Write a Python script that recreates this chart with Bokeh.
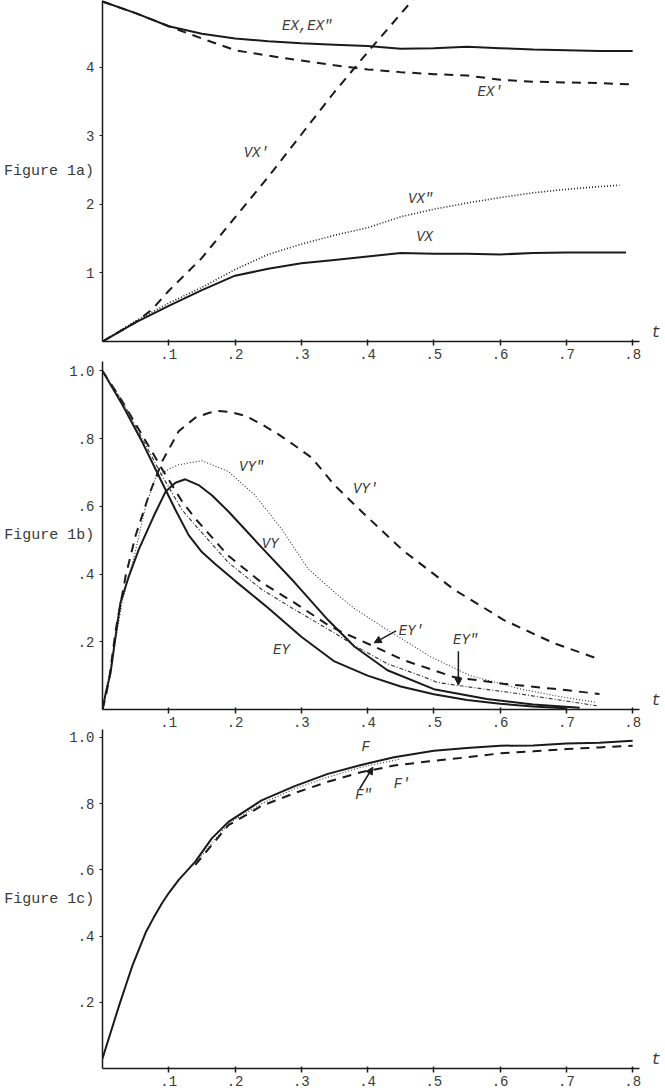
from bokeh.plotting import figure
from bokeh.layouts import column
from bokeh.models import Range1d, FixedTicker, Label, Arrow, NormalHead
from bokeh.embed import file_html
from bokeh.resources import INLINE

# ---------------- data ----------------
x_ticks = [0.1, 0.2, 0.3, 0.4, 0.5, 0.6, 0.7, 0.8]
x_tick_labels = [".1", ".2", ".3", ".4", ".5", ".6", ".7", ".8"]

ya_ticks = [1, 2, 3, 4]
ya_tick_labels = ["1", "2", "3", "4"]
yb_ticks = [0.2, 0.4, 0.6, 0.8, 1.0]
yb_tick_labels = [".2", ".4", ".6", ".8", "1.0"]

# Figure 1a
t_ex = [0, .05, .1, .15, .2, .25, .3, .35, .4, .45, .5, .55, .6, .65, .7, .75, .8]
ex = [4.96, 4.79, 4.60, 4.49, 4.42, 4.38, 4.35, 4.33, 4.31, 4.27, 4.28, 4.30, 4.28, 4.26, 4.25, 4.24, 4.24]
ex_p = [4.96, 4.79, 4.60, 4.42, 4.25, 4.17, 4.10, 4.03, 3.97, 3.93, 3.90, 3.88, 3.82, 3.79, 3.78, 3.77, 3.75]
t_vx_p = [0, .025, .05, .075, .1, .15, .2, .25, .3, .35, .4, .45, .48]
vx_p = [0, 0.14, 0.28, 0.47, 0.74, 1.22, 1.81, 2.40, 3.02, 3.64, 4.22, 4.78, 5.12]
t_vx = [0, .05, .1, .15, .2, .25, .3, .35, .4, .45, .5, .55, .6, .65, .7, .75, .79]
vx = [0, 0.28, 0.52, 0.75, 0.96, 1.06, 1.14, 1.19, 1.24, 1.29, 1.28, 1.28, 1.27, 1.29, 1.30, 1.30, 1.30]
t_vx_pp = [0, .05, .1, .15, .2, .25, .3, .35, .4, .45, .5, .55, .6, .65, .7, .75, .78]
vx_pp = [0, 0.30, 0.56, 0.79, 1.05, 1.27, 1.42, 1.55, 1.66, 1.82, 1.93, 2.02, 2.10, 2.17, 2.22, 2.26, 2.28]

# Figure 1b
t_ey = [0, .03, .06, .09, .11, .13, .15, .17, .2, .25, .3, .35, .4, .45, .5, .55, .6, .65, .7]
ey = [1.0, 0.90, 0.79, 0.67, 0.59, 0.515, 0.465, 0.43, 0.38, 0.30, 0.215, 0.142, 0.10, 0.068, 0.045, 0.028, 0.017, 0.009, 0.004]
t_ey_p = [0, .03, .06, .09, .12, .14, .19, .24, .29, .34, .36, .41, .454, .53, .605, .681, .75]
ey_p = [1.0, 0.91, 0.81, 0.71, 0.615, 0.564, 0.454, 0.375, 0.315, 0.25, 0.23, 0.186, 0.146, 0.096, 0.076, 0.061, 0.046]
t_ey_pp = [0, .03, .06, .09, .12, .14, .19, .24, .29, .351, .379, .43, .48, .505, .54, .63, .746]
ey_pp = [1.0, 0.91, 0.80, 0.69, 0.59, 0.544, 0.434, 0.355, 0.295, 0.225, 0.19, 0.135, 0.10, 0.08, 0.07, 0.046, 0.011]
t_vy = [0, .005, .012, .02, .027, .04, .055, .077, .095, .11, .125, .145, .165, .19, .24, .29, .34, .38, .43, .5, .58, .65, .72]
vy = [0, 0.05, 0.106, 0.22, 0.315, 0.395, 0.474, 0.57, 0.643, 0.67, 0.68, 0.663, 0.633, 0.585, 0.479, 0.375, 0.265, 0.186, 0.116, 0.06, 0.031, 0.015, 0.005]
t_vy_p = [0, .005, .01, .02, .035, .05, .07, .09, .115, .14, .16, .175, .195, .216, .24, .266, .29, .316, .35, .394, .454, .53, .605, .681, .746]
vy_p = [0, 0.04, 0.09, 0.235, 0.395, 0.514, 0.633, 0.733, 0.822, 0.862, 0.876, 0.882, 0.878, 0.867, 0.843, 0.812, 0.78, 0.743, 0.663, 0.579, 0.469, 0.355, 0.265, 0.196, 0.151]
t_vy_pp = [0, .01, .03, .05, .065, .08, .1, .115, .15, .19, .23, .27, .311, .351, .379, .43, .495, .555, .63, .69, .746]
vy_pp = [0, 0.10, 0.32, 0.47, 0.60, 0.685, 0.71, 0.723, 0.735, 0.703, 0.633, 0.534, 0.414, 0.345, 0.3, 0.235, 0.156, 0.10, 0.061, 0.038, 0.021]

# Figure 1c
t_f = [0, .025, .035, .045, .055, .065, .077, .09, .1, .115, .14, .165, .19, .24, .29, .34, .39, .44, .5, .55, .6, .65, .7, .75, .8]
f = [0.03, 0.19, 0.25, 0.31, 0.36, 0.41, 0.455, 0.50, 0.53, 0.57, 0.625, 0.695, 0.745, 0.81, 0.853, 0.89, 0.917, 0.94, 0.96, 0.968, 0.975, 0.976, 0.982, 0.984, 0.99]
t_f_p = [.14, .19, .24, .29, .34, .39, .44, .49, .55, .6, .65, .7, .75, .8]
f_p = [0.615, 0.735, 0.793, 0.832, 0.866, 0.895, 0.915, 0.927, 0.94, 0.952, 0.958, 0.965, 0.97, 0.975]
t_f_pp = [.14, .19, .24, .29, .34, .39, .45]
f_pp = [0.62, 0.74, 0.80, 0.845, 0.88, 0.91, 0.935]

# ---------------- style ----------------
FONT = "Liberation Mono"
INK = "#1a1a1a"
TXT = "#3a3a3a"
SOLID = dict(line_color=INK, line_width=2.0)
DASH = dict(line_color=INK, line_width=2.0, line_dash="9 7")
DOT = dict(line_color=INK, line_width=1.6, line_dash="1 2")
THINDOT = dict(line_color="#333333", line_width=1.1, line_dash="1 2")
DASHDOT = dict(line_color="#333333", line_width=1.1, line_dash="4 2 1 2")


def make_fig(height, ymax, yticks, ylabels, side_text, side_standoff):
    p = figure(width=665, height=height, x_range=Range1d(0, 0.845),
               y_range=Range1d(0, ymax), output_backend="svg",
               toolbar_location=None, min_border_left=102, min_border_right=3,
               min_border_top=0, min_border_bottom=0)
    p.grid.visible = False
    p.outline_line_color = None
    xa = p.xaxis[0]
    xa.ticker = FixedTicker(ticks=x_ticks)
    xa.major_label_overrides = dict(zip(x_ticks, x_tick_labels))
    xa.bounds = (0, 0.81)
    xa.axis_line_color = INK
    xa.axis_line_width = 1.5
    xa.major_tick_line_color = INK
    xa.major_tick_line_width = 1.5
    xa.major_tick_out = 4
    xa.major_tick_in = 2
    xa.minor_tick_line_color = None
    xa.major_label_standoff = 3
    xa.major_label_text_font = FONT
    xa.major_label_text_font_size = "14px"
    xa.major_label_text_color = TXT
    ya = p.yaxis[0]
    ya.ticker = FixedTicker(ticks=yticks)
    ya.major_label_overrides = dict(zip(yticks, ylabels))
    ya.axis_line_color = INK
    ya.axis_line_width = 1.5
    ya.major_tick_line_color = INK
    ya.major_tick_out = 3
    ya.major_tick_in = 0
    ya.minor_tick_line_color = None
    ya.major_label_standoff = 5
    ya.major_label_text_font = FONT
    ya.major_label_text_font_size = "14px"
    ya.major_label_text_color = TXT
    ya.axis_label = side_text
    ya.axis_label_orientation = "horizontal"
    ya.axis_label_standoff = side_standoff
    ya.axis_label_text_font = FONT
    ya.axis_label_text_font_size = "15px"
    ya.axis_label_text_font_style = "normal"
    ya.axis_label_text_color = TXT
    p.add_layout(Label(x=0.828, y=0, text="t", text_font=FONT, text_font_style="italic",
                       text_font_size="16px", text_color=TXT, text_baseline="bottom"))
    return p


def tag(p, x, y, text, size="14px"):
    p.add_layout(Label(x=x, y=y, text=text, text_font=FONT, text_font_style="italic",
                       text_font_size=size, text_color=TXT, text_align="center",
                       text_baseline="middle"))


def arrow(p, xs, ys, xe, ye):
    p.add_layout(Arrow(end=NormalHead(size=7, fill_color=INK, line_color=INK),
                       x_start=xs, y_start=ys, x_end=xe, y_end=ye,
                       line_color=INK, line_width=1.5))


# ---------------- Figure 1a ----------------
pa = make_fig(361, 4.975, ya_ticks, ya_tick_labels, "Figure 1a)", -11)
pa.line(t_ex, ex, **SOLID)
pa.line(t_ex, ex_p, **DASH)
pa.line(t_vx_p, vx_p, **DASH)
pa.line(t_vx, vx, **SOLID)
pa.line(t_vx_pp, vx_pp, **DOT)
tag(pa, 0.309, 4.61, 'EX,EX"')
tag(pa, 0.585, 3.64, "EX'")
tag(pa, 0.232, 2.75, "VX'")
tag(pa, 0.48, 2.08, 'VX"')
tag(pa, 0.486, 1.53, "VX")

# ---------------- Figure 1b ----------------
pb = make_fig(368, 1.028, yb_ticks, yb_tick_labels, "Figure 1b)", -28)
pb.line(t_vy_p, vy_p, **DASH)
pb.line(t_vy_pp, vy_pp, **THINDOT)
pb.line(t_vy, vy, **SOLID)
pb.line(t_ey, ey, **SOLID)
pb.line(t_ey_p, ey_p, **DASH)
pb.line(t_ey_pp, ey_pp, **DASHDOT)
tag(pb, 0.225, 0.715, 'VY"')
tag(pb, 0.397, 0.652, "VY'")
tag(pb, 0.253, 0.49, "VY")
tag(pb, 0.27, 0.175, "EY")
tag(pb, 0.466, 0.232, "EY'")
tag(pb, 0.548, 0.205, 'EY"')
arrow(pb, 0.443, 0.232, 0.41, 0.197)
arrow(pb, 0.537, 0.172, 0.537, 0.072)

# ---------------- Figure 1c ----------------
pc = make_fig(359, 1.024, yb_ticks, yb_tick_labels, "Figure 1c)", -28)
pc.line(t_f_p, f_p, **DASH)
pc.line(t_f_pp, f_pp, **THINDOT)
pc.line(t_f, f, **SOLID)
tag(pc, 0.397, 0.972, "F")
tag(pc, 0.452, 0.86, "F'")
tag(pc, 0.394, 0.825, 'F"')
arrow(pc, 0.388, 0.845, 0.408, 0.91)

layout = column(pa, pb, pc, spacing=0)
open("out.html", "w").write(file_html(layout, INLINE))
